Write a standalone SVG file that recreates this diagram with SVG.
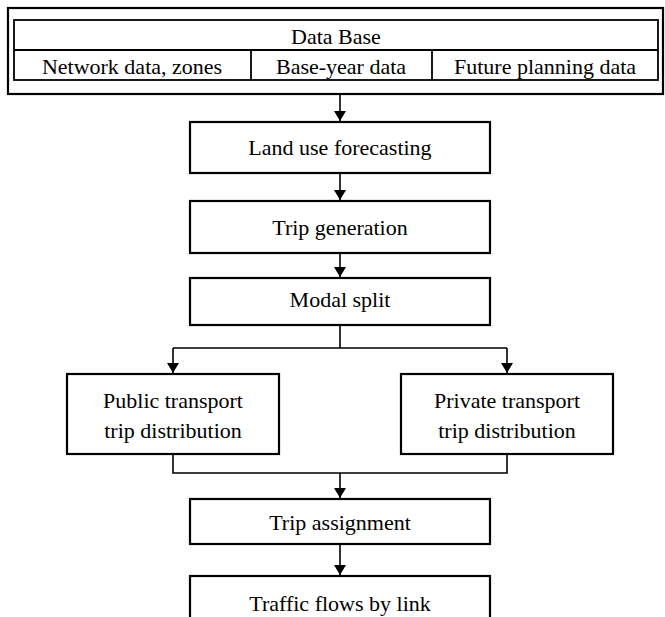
<svg xmlns="http://www.w3.org/2000/svg" width="665" height="617" viewBox="0 0 665 617">
<defs>
<marker id="ah" viewBox="0 0 10 12" refX="10" refY="6" markerWidth="10" markerHeight="12" markerUnits="userSpaceOnUse" orient="auto">
<path d="M0,0 L10,6 L0,12 Z" fill="#000"/>
</marker>
<style>
.b{fill:#fff;stroke:#000;stroke-width:2.2}
.l{fill:none;stroke:#000;stroke-width:1.8}
.c{stroke:#000;stroke-width:1.6;fill:none}
text{font-family:"Liberation Serif","Times New Roman",serif;font-size:22px;fill:#000;text-anchor:middle}
</style>
</defs>
<rect width="665" height="617" fill="#fff"/>
<g id="database">
<rect class="b" x="8" y="8" width="655" height="86"/>
<rect class="l" x="14" y="20" width="644" height="60"/>
<line class="l" x1="14" y1="50" x2="658" y2="50"/>
<line class="l" x1="251" y1="50" x2="251" y2="80"/>
<line class="l" x1="432" y1="50" x2="432" y2="80"/>
<text x="336" y="44">Data Base</text>
<text x="132" y="74">Network data, zones</text>
<text x="341" y="74">Base-year data</text>
<text x="545" y="74">Future planning data</text>
</g>
<g id="landuse">
<rect class="b" x="190" y="122" width="300" height="51"/>
<text x="340" y="155">Land use forecasting</text>
</g>
<g id="tripgen">
<rect class="b" x="190" y="201" width="300" height="52"/>
<text x="340" y="235">Trip generation</text>
</g>
<g id="modal">
<rect class="b" x="190" y="278" width="300" height="47"/>
<text x="340" y="307">Modal split</text>
</g>
<g id="public">
<rect class="b" x="67" y="374" width="212" height="80"/>
<text x="173" y="408">Public transport</text>
<text x="173" y="438">trip distribution</text>
</g>
<g id="private">
<rect class="b" x="401" y="374" width="212" height="80"/>
<text x="507" y="408">Private transport</text>
<text x="507" y="438">trip distribution</text>
</g>
<g id="assign">
<rect class="b" x="190" y="499" width="300" height="45"/>
<text x="340" y="530">Trip assignment</text>
</g>
<g id="flows">
<rect class="b" x="190" y="576" width="300" height="60"/>
<text x="340" y="611">Traffic flows by link</text>
</g>
<g id="connectors">
<line class="c" x1="340" y1="94" x2="340" y2="121" marker-end="url(#ah)"/>
<line class="c" x1="340" y1="173" x2="340" y2="200" marker-end="url(#ah)"/>
<line class="c" x1="340" y1="253" x2="340" y2="277" marker-end="url(#ah)"/>
<path class="c" d="M340,325 V348 M173,348 H507"/>
<line class="c" x1="173" y1="348" x2="173" y2="373" marker-end="url(#ah)"/>
<line class="c" x1="507" y1="348" x2="507" y2="373" marker-end="url(#ah)"/>
<path class="c" d="M173,454 V473 H507 V454"/>
<line class="c" x1="340" y1="473" x2="340" y2="498" marker-end="url(#ah)"/>
<line class="c" x1="340" y1="544" x2="340" y2="575" marker-end="url(#ah)"/>
</g>
</svg>
